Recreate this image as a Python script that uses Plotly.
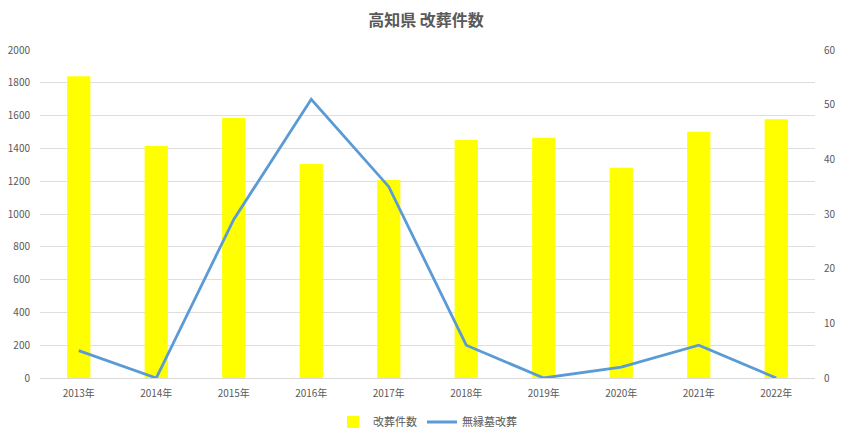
import plotly.graph_objects as go

years = ["2013年", "2014年", "2015年", "2016年", "2017年", "2018年", "2019年", "2020年", "2021年", "2022年"]
kaiso = [1840, 1415, 1585, 1305, 1207, 1451, 1465, 1282, 1502, 1577]
muen = [5, 0, 29, 51, 35, 6, 0, 2, 6, 0]

font_family = "Noto Sans CJK JP, Noto Sans, sans-serif"
gray = "#595959"

fig = go.Figure()
fig.add_trace(go.Bar(x=years, y=kaiso, name="改葬件数", marker_color="#FFFF00",
                     marker_line_width=0, yaxis="y"))
fig.add_trace(go.Scatter(x=years, y=muen, name="無縁墓改葬", mode="lines",
                         line=dict(color="#5B9BD5", width=2.8), yaxis="y2"))

# page body has an 8px margin, so the figure is sized to fit the 844x436 window
fig.update_layout(
    width=836, height=428,
    margin=dict(l=32, r=29, t=42, b=58, autoexpand=False),
    paper_bgcolor="white", plot_bgcolor="white",
    title=dict(text="<b>高知県 改葬件数</b>", x=0.5, xanchor="center", y=0.97, yanchor="middle",
               font=dict(family=font_family, size=16, color=gray)),
    bargap=0.7,
    showlegend=True,
    legend=dict(orientation="h", x=0.5, xanchor="center", y=-0.09, yanchor="top",
                font=dict(family=font_family, size=11, color=gray)),
    xaxis=dict(showgrid=False, showline=True, linecolor="#d9d9d9", automargin=False,
               ticks="outside", ticklen=6, tickcolor="rgba(0,0,0,0)",
               tickfont=dict(family=font_family, size=10, color=gray)),
    yaxis=dict(range=[0, 2000], dtick=200, showgrid=True, gridcolor="#dedede", zeroline=False,
               ticks="outside", ticklen=7, tickcolor="rgba(0,0,0,0)", automargin=False,
               tickfont=dict(family=font_family, size=10, color=gray)),
    yaxis2=dict(range=[0, 60], dtick=10, overlaying="y", side="right", showgrid=False,
                zeroline=False, automargin=False,
                ticks="outside", ticklen=6, tickcolor="rgba(0,0,0,0)",
                tickfont=dict(family=font_family, size=10, color=gray)),
)

fig.write_html("out.html")
